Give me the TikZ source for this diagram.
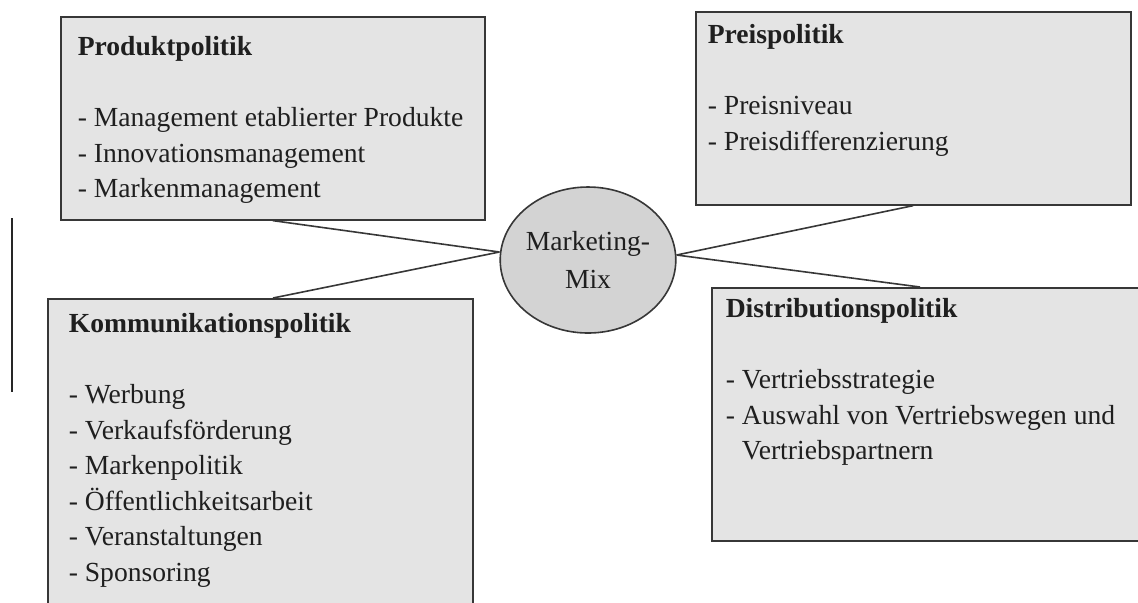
\documentclass[tikz,border=0pt]{standalone}
\usepackage{fontspec}
\setmainfont{Liberation Serif}
\usepackage{tikz}
\usetikzlibrary{shapes.geometric}
\definecolor{fieldgray}{RGB}{228,228,228}
\definecolor{hubgray}{RGB}{211,211,211}
\definecolor{edgegray}{RGB}{55,55,55}

\begin{document}
\begin{tikzpicture}[x=0.5pt, y=-0.5pt,
          field/.style={rectangle, draw=edgegray, line width=0.8pt, fill=fieldgray,
              anchor=north west, align=flush left, inner ysep=0pt, text=black!88,
              font=\fontsize{13.8}{17.75}\selectfont},
          hub/.style={ellipse, draw=edgegray, line width=0.8pt, fill=hubgray,
              minimum width=85pt, minimum height=73pt, inner sep=0pt, align=center,
              text=black!88, font=\fontsize{13.8}{19}\selectfont},
          link/.style={edgegray, line width=0.8pt}
        ]
        \clip (0,0) rectangle (1138,602);
        \node[hub] (mix) at (588,260) {Marketing-\\Mix};
        \node[field, inner xsep=8.5pt, text width=195pt, text height=19.5pt, text depth=82pt]
            (prod) at (60,16) {\textbf{Produktpolitik}\\[17.75pt]- Management etablierter Produkte\\- Innovationsmanagement\\- Markenmanagement};
        \node[field, inner xsep=6pt, text width=205.5pt, text height=16pt, text depth=80.5pt]
            (preis) at (695,11) {\textbf{Preispolitik}\\[17.75pt]- Preisniveau\\- Preisdifferenzierung};
        \node[field, inner xsep=10.5pt, text width=191.5pt, text height=17pt, text depth=200pt]
            (komm) at (47,298) {\textbf{Kommunikationspolitik}\\[17.75pt]- Werbung\\- Verkaufsförderung\\- Markenpolitik\\- Öffentlichkeitsarbeit\\- Veranstaltungen\\- Sponsoring};
        \node[field, inner xsep=7pt, text width=230pt, text height=15pt, text depth=111.5pt]
            (dist) at (711,287) {\textbf{Distributionspolitik}\\[17.75pt]- Vertriebsstrategie\\- Auswahl von Vertriebswegen und\\\phantom{- }Vertriebspartnern};
        \draw[link] (prod.south) -- ([yshift=4pt]mix.west);
        \draw[link] ([xshift=113pt]komm.north west) -- ([yshift=4pt]mix.west);
        \draw[link] (preis.south) -- ([yshift=2.5pt]mix.east);
        \draw[link] ([xshift=104.5pt]dist.north west) -- ([yshift=2.5pt]mix.east);
        % stray rule at the left margin
        \coordinate (rtop) at (12,218);
        \coordinate (rbot) at (12,392);
        \draw[line width=0.9pt, black!85] (rtop) -- (rbot);
      \end{tikzpicture}
\end{document}
